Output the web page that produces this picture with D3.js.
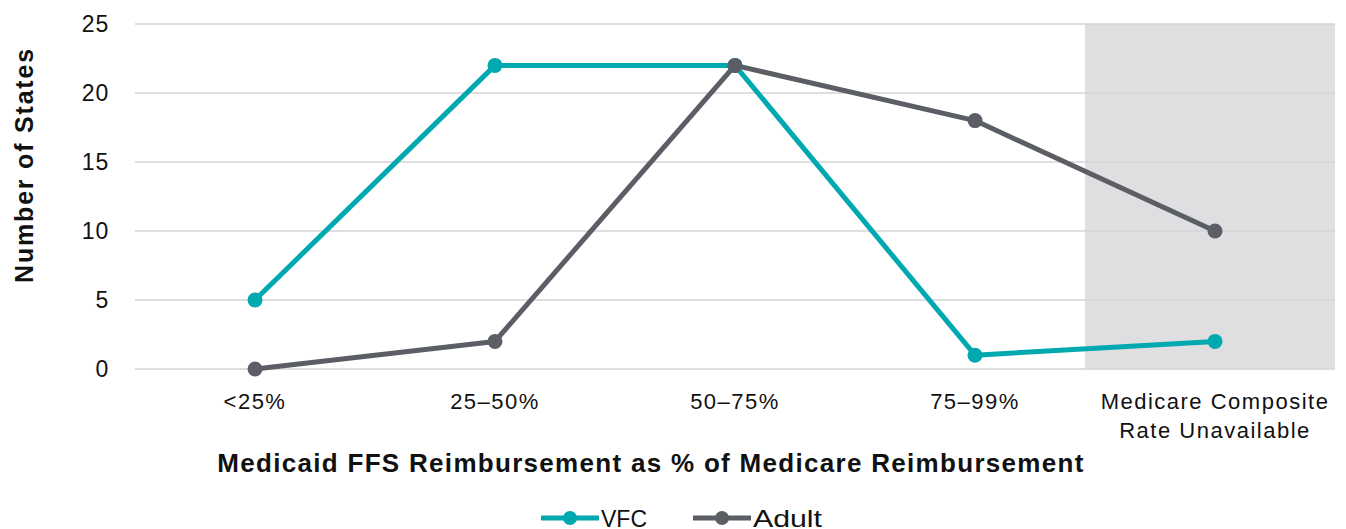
<!DOCTYPE html>
<html lang="en">
  <head>
    <meta charset="utf-8">
    <title>Medicaid FFS Reimbursement</title>
    <style>
      body { margin: 0; background: #fff; }
      svg { display: block; font-family: "Liberation Sans", Arial, sans-serif; }
    </style>
    <script src="https://cdn.jsdelivr.net/npm/d3@7"></script>
  </head>
  <body>
    <script>
      // data
      const categories = ['<25%', '25–50%', '50–75%', '75–99%', 'Medicare Composite\nRate Unavailable'];
      const vfc   = [5, 22, 22, 1, 2];
      const adult = [0, 2, 22, 18, 10];
      const yTicks = [0, 5, 10, 15, 20, 25];

      const series = [
        { name: 'VFC',   values: vfc,   color: '#00a8b0' },
        { name: 'Adult', values: adult, color: '#5c5e66' }
      ];

      const width = 1346, height = 529;
      const margin = { left: 135, right: 11, top: 24, bottom: 160 };

      const svg = d3.select('body').append('svg')
        .attr('width', width)
        .attr('height', height);

      const x = d3.scaleBand()
        .domain(categories)
        .range([margin.left, width - margin.right]);

      const y = d3.scaleLinear()
        .domain([0, 25])
        .range([height - margin.bottom, margin.top]);

      const cx = d => x(d) + x.bandwidth() / 2;

      // shaded "unavailable" column
      const last = categories[categories.length - 1];
      svg.append('rect')
        .attr('x', x(last) - 10)
        .attr('y', y(25))
        .attr('width', width - margin.right - x(last) + 10)
        .attr('height', y(0) - y(25))
        .attr('fill', '#dfdfe1');

      // gridlines
      svg.append('g')
        .selectAll('line')
        .data(yTicks)
        .join('line')
          .attr('x1', margin.left)
          .attr('x2', width - margin.right)
          .attr('y1', d => y(d))
          .attr('y2', d => y(d))
          .attr('stroke', '#d4d4d6')
          .attr('stroke-width', 1.5);

      // y axis labels
      const yAxis = svg.append('g')
        .attr('transform', `translate(${margin.left},0)`)
        .call(d3.axisLeft(y).tickValues(yTicks).tickSize(0).tickPadding(26));
      yAxis.select('.domain').remove();
      yAxis.selectAll('text')
        .attr('font-size', 23)
        .attr('letter-spacing', 0.8)
        .attr('fill', '#111')
        .attr('font-family', '"Liberation Sans", Arial, sans-serif');

      // x axis labels (multi-line)
      const xAxis = svg.append('g');
      categories.forEach(c => {
        const t = xAxis.append('text')
          .attr('x', cx(c))
          .attr('y', y(0) + 40)
          .attr('text-anchor', 'middle')
          .attr('font-size', 22)
          .attr('letter-spacing', 1.5)
          .attr('fill', '#111');
        c.split('\n').forEach((line, i) => {
          t.append('tspan')
            .attr('x', cx(c))
            .attr('dy', i === 0 ? 0 : 29)
            .text(line);
        });
      });

      // lines and markers
      const line = d3.line()
        .x((d, i) => cx(categories[i]))
        .y(d => y(d));

      series.forEach(s => {
        svg.append('path')
          .datum(s.values)
          .attr('fill', 'none')
          .attr('stroke', s.color)
          .attr('stroke-width', 5)
          .attr('stroke-linejoin', 'round')
          .attr('d', line);
      });
      series.forEach(s => {
        svg.append('g')
          .selectAll('circle')
          .data(s.values)
          .join('circle')
            .attr('cx', (d, i) => cx(categories[i]))
            .attr('cy', d => y(d))
            .attr('r', 7.5)
            .attr('fill', s.color);
      });

      // axis titles
      svg.append('text')
        .attr('transform', 'translate(33,165) rotate(-90)')
        .attr('text-anchor', 'middle')
        .attr('font-size', 25)
        .attr('font-weight', 'bold')
        .attr('letter-spacing', 1.8)
        .attr('fill', '#111')
        .text('Number of States');

      svg.append('text')
        .attr('x', 651)
        .attr('y', 472)
        .attr('text-anchor', 'middle')
        .attr('font-size', 26)
        .attr('font-weight', 'bold')
        .attr('letter-spacing', 1.3)
        .attr('fill', '#111')
        .text('Medicaid FFS Reimbursement as % of Medicare Reimbursement');

      // legend
      const legend = svg.append('g');
      const legendItems = [
        { s: series[0], x: 541, w: 46 },
        { s: series[1], x: 693, w: 69 }
      ];
      legendItems.forEach(({ s, x: lx, w }) => {
        legend.append('line')
          .attr('x1', lx).attr('x2', lx + 58)
          .attr('y1', 518).attr('y2', 518)
          .attr('stroke', s.color)
          .attr('stroke-width', 5);
        legend.append('circle')
          .attr('cx', lx + 29).attr('cy', 518).attr('r', 7)
          .attr('fill', s.color);
        legend.append('text')
          .attr('x', lx + 60)
          .attr('y', 527)
          .attr('font-size', 24)
          .attr('textLength', w)
          .attr('lengthAdjust', 'spacingAndGlyphs')
          .attr('fill', '#111')
          .text(s.name);
      });
    </script>
  </body>
</html>
